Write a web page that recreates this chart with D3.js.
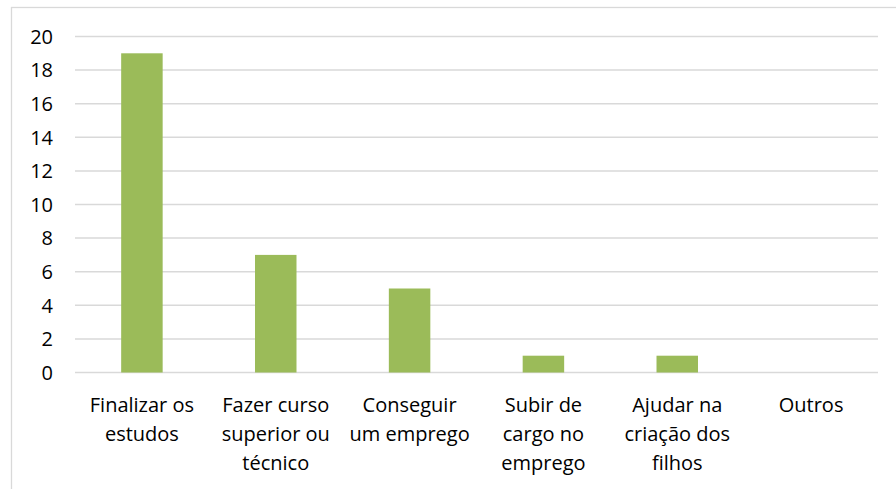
<!DOCTYPE html>
<html>
<head>
<meta charset="utf-8">
<script src="https://cdn.jsdelivr.net/npm/d3@7"></script>
<style>
  html, body { margin: 0; padding: 0; background: #fff; }
  svg { display: block; font-family: "Open Sans", Lato, sans-serif; }
</style>
</head>
<body>
<svg id="chart" width="896" height="489"></svg>
<script>
// ─── Data ─────────────────────────────────────────────────────────────────────
const categories = [
  ['Finalizar os', 'estudos'],
  ['Fazer curso', 'superior ou', 'técnico'],
  ['Conseguir', 'um emprego'],
  ['Subir de', 'cargo no', 'emprego'],
  ['Ajudar na', 'criação dos', 'filhos'],
  ['Outros']
];
const values = [19, 7, 5, 1, 1, 0];
const yTicks = [0, 2, 4, 6, 8, 10, 12, 14, 16, 18, 20];

const W = 896, H = 489;
const M = { top: 36.5, right: 18, bottom: 116.5, left: 75 };
const IW = W - M.left - M.right;
const IH = H - M.top - M.bottom;

const svg = d3.select('#chart');

// outer chart border
svg.append('rect')
  .attr('x', 11.5).attr('y', 7.5)
  .attr('width', W + 10).attr('height', H + 10)
  .attr('fill', 'none').attr('stroke', '#d9d9d9').attr('stroke-width', 1.3);

const g = svg.append('g').attr('transform', `translate(${M.left},${M.top})`);

const x = d3.scaleBand().domain(d3.range(categories.length)).range([0, IW]).paddingInner(0.69).paddingOuter(0.345);
const y = d3.scaleLinear().domain([0, 20]).range([IH, 0]);

// ── Gridlines ────────────────────────────────────────────────────────────────
g.selectAll('.grid').data(yTicks).enter().append('line')
  .attr('x1', 0).attr('x2', IW)
  .attr('y1', d => y(d)).attr('y2', d => y(d))
  .attr('stroke', '#d9d9d9').attr('stroke-width', 1.5);

// ── Y labels ─────────────────────────────────────────────────────────────────
g.selectAll('.ylab').data(yTicks).enter().append('text')
  .attr('x', -22).attr('y', d => y(d)).attr('dy', '0.36em')
  .attr('text-anchor', 'end').attr('font-size', 20).attr('fill', '#000')
  .text(d => d);

// ── Bars ─────────────────────────────────────────────────────────────────────
g.selectAll('.bar').data(values).enter().append('rect')
  .attr('x', (d, i) => x(i)).attr('width', x.bandwidth())
  .attr('y', d => y(d)).attr('height', d => IH - y(d))
  .attr('fill', '#9bbb59');

// ── X labels ─────────────────────────────────────────────────────────────────
const xl = g.selectAll('.xlab').data(categories).enter().append('text')
  .attr('text-anchor', 'middle').attr('font-size', 20).attr('fill', '#000')
  .attr('transform', (d, i) => `translate(${x(i) + x.bandwidth() / 2},${IH + 39.5})`);
xl.selectAll('tspan').data(d => d).enter().append('tspan')
  .attr('x', 0).attr('y', (d, j) => j * 29)
  .text(d => d);
</script>
</body>
</html>
